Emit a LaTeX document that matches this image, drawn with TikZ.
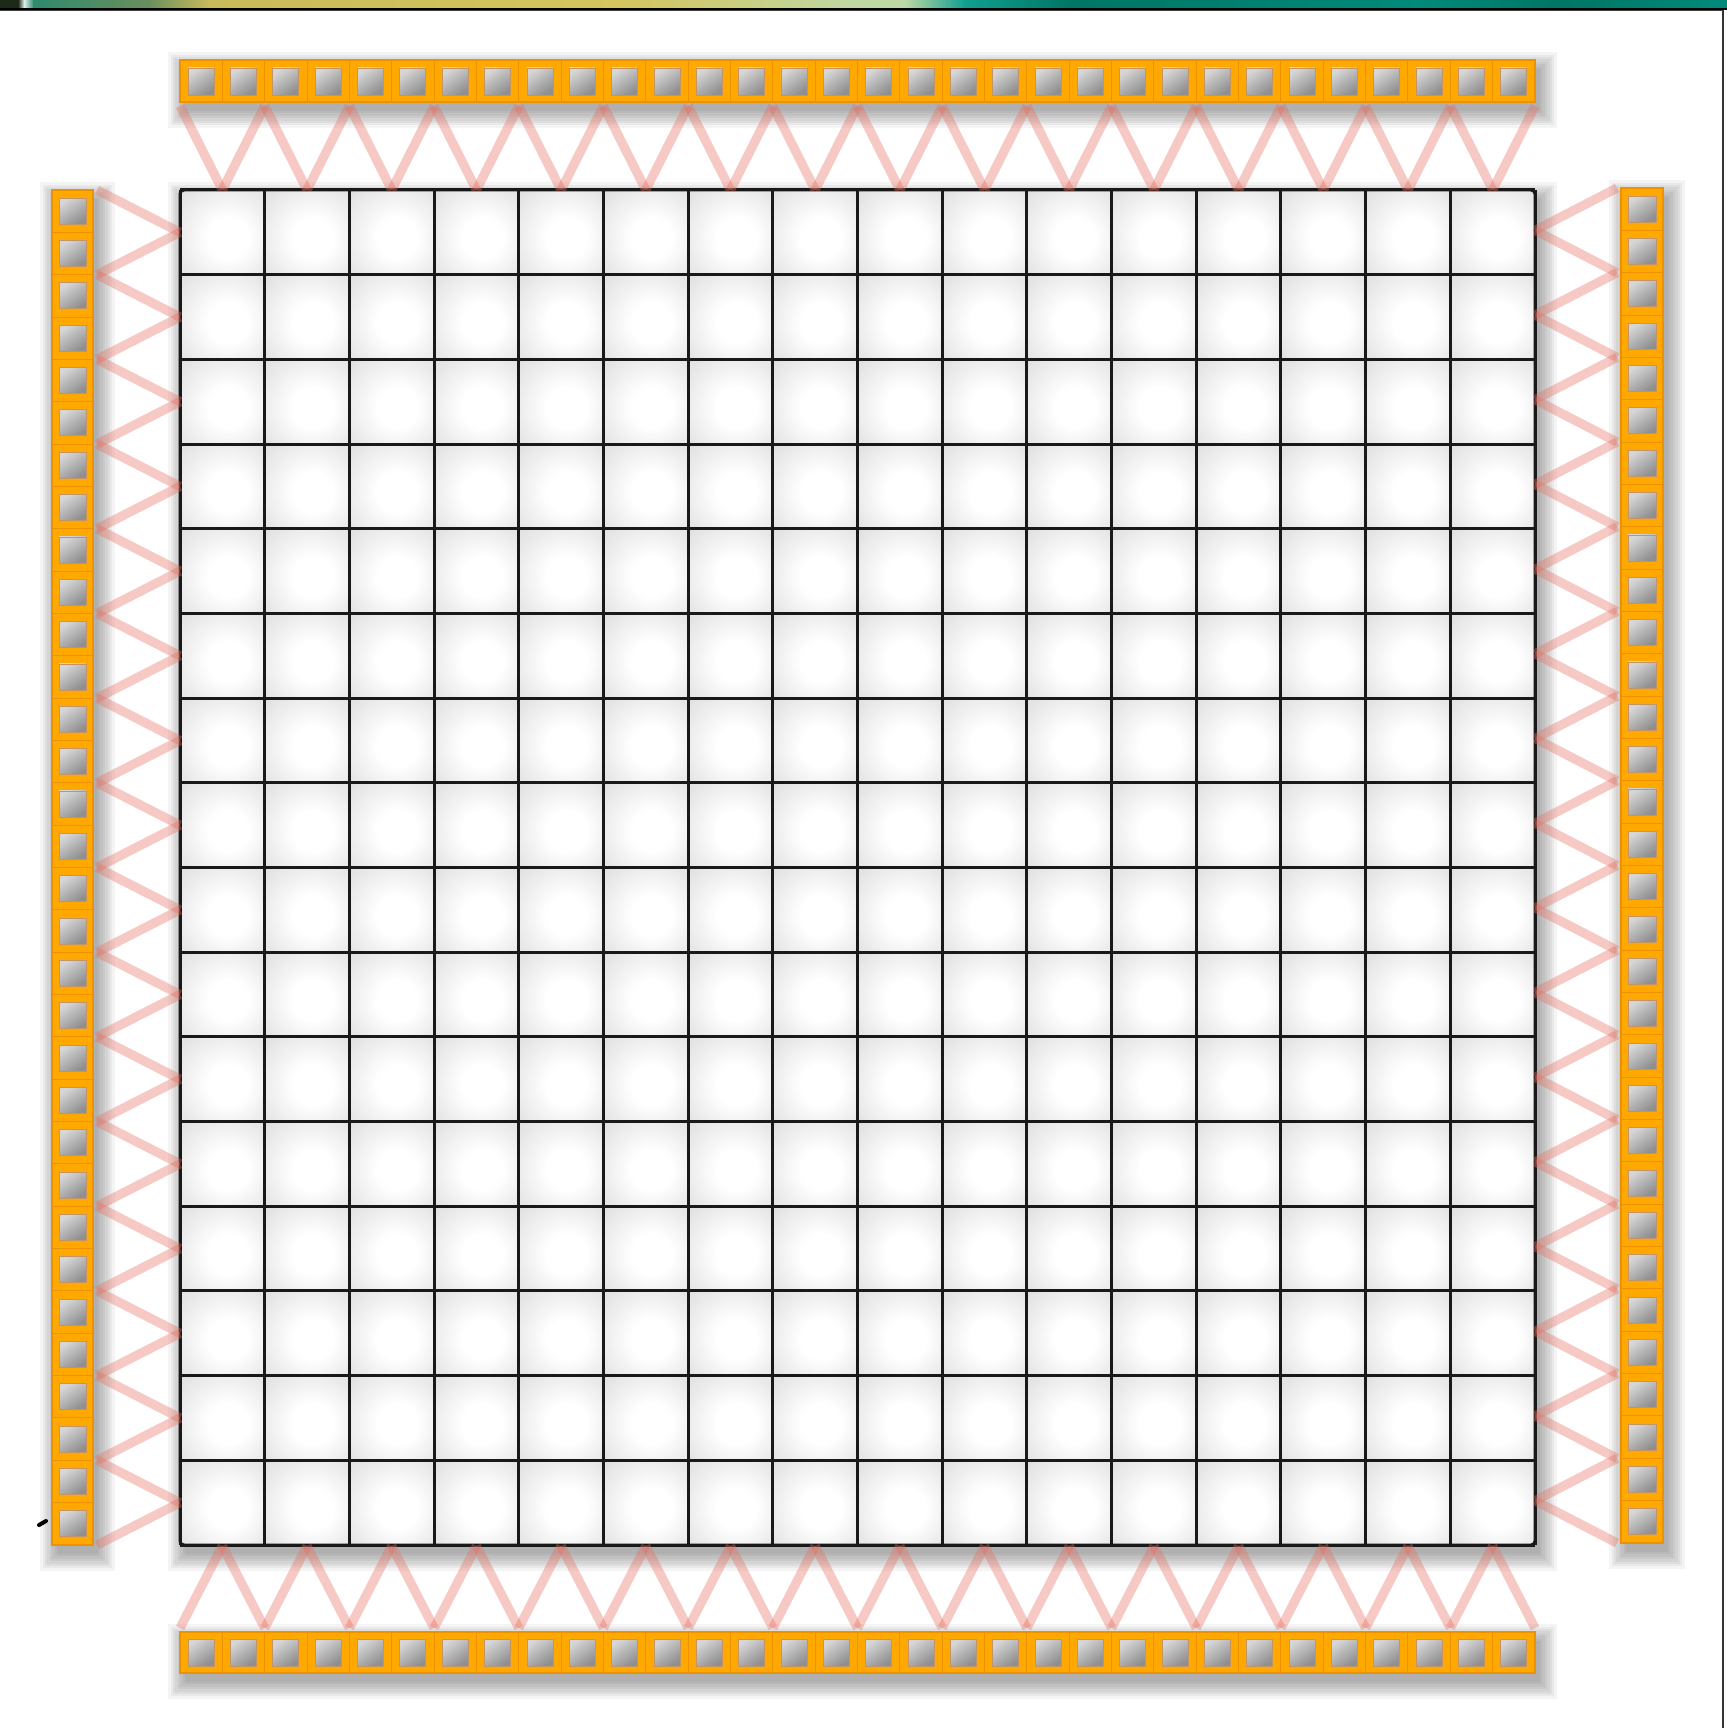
\documentclass[tikz,border=0pt]{standalone}
\usetikzlibrary{calc}
\definecolor{barorange}{RGB}{255,168,0}
\definecolor{bardark}{RGB}{236,146,0}
\definecolor{zigred}{RGB}{232,110,95}
\definecolor{sA}{RGB}{30,42,24}
\definecolor{sB}{RGB}{46,138,110}
\definecolor{sC}{RGB}{106,143,94}
\definecolor{sD}{RGB}{201,187,90}
\definecolor{sE}{RGB}{212,197,94}
\definecolor{sF}{RGB}{190,216,164}
\definecolor{sG}{RGB}{16,160,144}
\definecolor{sH}{RGB}{0,118,100}
\definecolor{sI}{RGB}{0,138,122}
\pgfdeclareradialshading{cellglow}{\pgfpoint{4bp}{-4bp}}{color(0bp)=(white); color(12bp)=(white); color(35bp)=(black!11); color(50bp)=(black!19); color(75bp)=(black!25)}
\tikzset{
  gridline/.style={line width=1.5pt, black!90},
  zig/.style={line width=4.6pt, zigred, opacity=0.37, line cap=butt},
  barbody/.style={fill=barorange, draw=bardark, line width=0.6pt},
  divider/.style={bardark, line width=0.5pt},
  padsq/.style={top color=black!16, bottom color=black!44, shading angle=35, draw=orange!60!black!60, line width=0.4pt},
}
\newcommand\blurshadow[4]{%
  \foreach \k in {0,...,7}{%
    \fill[black,opacity=0.045] ({#1+5-\k*2.4},{#2+9-\k*2.4}) rectangle ({#3+5+\k*2.4},{#4+9+\k*2.4});
  }%
}
\begin{document}
\begin{tikzpicture}[x=0.5pt,y=-0.5pt]
\useasboundingbox (0,0) rectangle (1727,1728);
\fill[white] (0,0) rectangle (1727,1728);
% ---- top strip
\fill[sA] (0,0) rectangle (19,9);
\fill[left color=sA, right color=white!85!sB] (18,0) rectangle (24,9);
\fill[left color=white!85!sB, right color=sB] (24,0) rectangle (34,9);
\fill[left color=sB, right color=sC] (33,0) rectangle (150,9);
\fill[left color=sC, right color=sD] (149,0) rectangle (210,9);
\fill[left color=sD, right color=sE] (209,0) rectangle (620,9);
\fill[left color=sE, right color=sF] (619,0) rectangle (860,9);
\fill[left color=sF, right color=sF] (859,0) rectangle (905,9);
\fill[left color=sF, right color=sG] (904,0) rectangle (965,9);
\fill[left color=sG, right color=sH] (964,0) rectangle (1070,9);
\fill[left color=sH, right color=sI] (1069,0) rectangle (1420,9);
\fill[left color=sI, right color=sH] (1419,0) rectangle (1560,9);
\fill[left color=sH, right color=sI] (1559,0) rectangle (1727,9);
\draw[black, line width=1pt] (0,9.5) -- (1727,9.5);
\draw[black!75, line width=0.5pt] (0,11) -- (1722,11);
\draw[black!80, line width=1.2pt] (1723,10) -- (1723,1728);
% ---- shadows
\blurshadow{180}{60}{1535}{102}
\blurshadow{180}{1632}{1535}{1673}
\blurshadow{52}{190}{93}{1545}
\blurshadow{1621}{188}{1663}{1543}
\blurshadow{180}{190}{1535}{1545}
% ---- grid cells
\foreach \r in {0,...,15}{
  \foreach \c in {0,...,15}{
    \shade[shading=cellglow] ({180+\c*84.69},{190+\r*84.69}) rectangle ({180+(\c+1)*84.69},{190+(\r+1)*84.69});
  }
}
\foreach \i in {0,...,16}{
  \draw[gridline] ({180+\i*84.69},190) -- ({180+\i*84.69},1545);
  \draw[gridline] (180,{190+\i*84.69}) -- (1535,{190+\i*84.69});
}
\draw[gridline, rounded corners=2pt] (180,190) rectangle (1535,1545);
% ---- zigzags
\foreach \j in {0,...,31}{
  \pgfmathsetmacro\xa{180+\j*42.344}
  \pgfmathsetmacro\xb{180+(\j+1)*42.344}
  \pgfmathsetmacro\ta{148-42*cos(180*\j)}
  \pgfmathsetmacro\tb{148-42*cos(180*(\j+1))}
  \draw[zig] (\xa,\ta) -- (\xb,\tb);
  \pgfmathsetmacro\ba{1587+41*cos(180*\j)}
  \pgfmathsetmacro\bb{1587+41*cos(180*(\j+1))}
  \draw[zig] (\xa,\ba) -- (\xb,\bb);
  \pgfmathsetmacro\ya{190+\j*42.344}
  \pgfmathsetmacro\yb{190+(\j+1)*42.344}
  \pgfmathsetmacro\la{138.5-41.5*cos(180*\j)}
  \pgfmathsetmacro\lb{138.5-41.5*cos(180*(\j+1))}
  \draw[zig] (\la,\ya) -- (\lb,\yb);
  \pgfmathsetmacro\ra{1576+41*cos(180*\j)}
  \pgfmathsetmacro\rb{1576+41*cos(180*(\j+1))}
  \pgfmathsetmacro\yc{188+\j*42.344}
  \pgfmathsetmacro\yd{188+(\j+1)*42.344}
  \draw[zig] (\ra,\yc) -- (\rb,\yd);
}
% ---- bars
\draw[barbody] (180,60) rectangle (1535,102);
\draw[barbody] (180,1632) rectangle (1535,1673);
\draw[barbody] (52,190) rectangle (93,1545);
\draw[barbody] (1621,188) rectangle (1663,1543);
\foreach \i in {1,...,31}{
  \pgfmathsetmacro\dx{180+\i*42.344}
  \draw[divider] (\dx,60) -- (\dx,102);
  \draw[divider] (\dx,1632) -- (\dx,1673);
  \pgfmathsetmacro\dy{190+\i*42.344}
  \draw[divider] (52,\dy) -- (93,\dy);
  \pgfmathsetmacro\dz{188+\i*42.344}
  \draw[divider] (1621,\dz) -- (1663,\dz);
}
\foreach \i in {0,...,31}{
  \pgfmathsetmacro\cx{180+(\i+0.5)*42.344}
  \draw[padsq] ({\cx-13},68) rectangle ({\cx+13},95);
  \draw[padsq] ({\cx-13},1639) rectangle ({\cx+13},1666);
  \pgfmathsetmacro\cy{190+(\i+0.5)*42.344}
  \draw[padsq] (59,{\cy-13}) rectangle (86,{\cy+13});
  \pgfmathsetmacro\cz{188+(\i+0.5)*42.344}
  \draw[padsq] (1628,{\cz-13}) rectangle (1656,{\cz+13});
}
% ---- stray mark
\draw[black, line width=2pt, line cap=round] (39,1525) -- (46,1521);
\end{tikzpicture}
\end{document}
